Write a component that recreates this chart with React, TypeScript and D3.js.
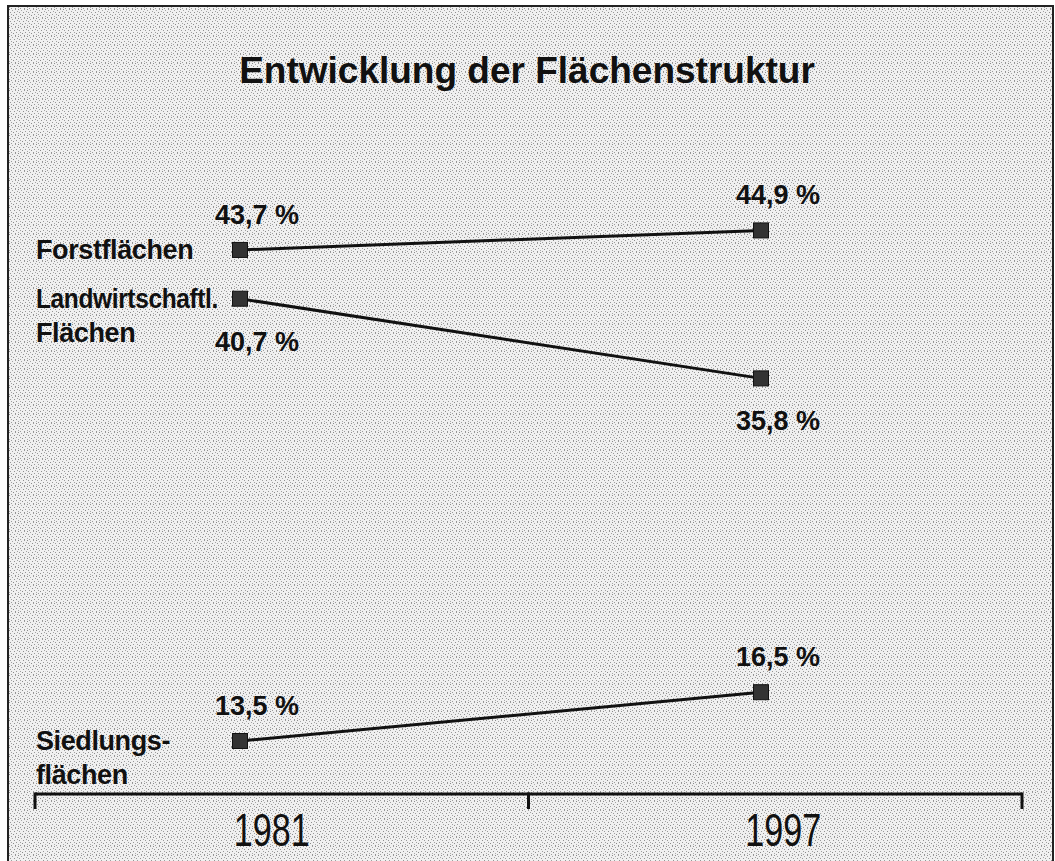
import React, { useEffect, useRef } from 'react';
import * as d3 from 'd3';

const title = 'Entwicklung der Flächenstruktur';
const years = ['1981', '1997'];
const categories = [['Forstflächen'], ['Landwirtschaftl.', 'Flächen'], ['Siedlungs-', 'flächen']];
const values1981 = [43.7, 40.7, 13.5];
const values1997 = [44.9, 35.8, 16.5];
const labelSide = ['above', 'below', 'above'];

const W = 1055;
const H = 861;
const font = '"Liberation Sans", Arial, Helvetica, sans-serif';

const fmt = (v: number) => d3.format('.1f')(v).replace('.', ',') + ' %';

// irregular stipple dots for the scanned-paper look
const dots: [number, number, string][] = [
  [0, 0, '#8c8c8c'], [3, 1, '#a5a5a5'], [6, 0, '#9a9a9a'], [1, 3, '#999'],
  [5, 3, '#8f8f8f'], [2, 5, '#a0a0a0'], [7, 5, '#969696'], [4, 6, '#8a8a8a'],
  [0, 7, '#a8a8a8'], [6, 8, '#939393'], [2, 8, '#9c9c9c'], [8, 2, '#a2a2a2'],
];

const App = () => {
  const ref = useRef<SVGSVGElement>(null);

  // squeeze the long row labels so they stay left of the markers
  useEffect(() => {
    d3.select(ref.current).selectAll<SVGTextElement, unknown>('text.cat').each(function () {
      const len = this.getComputedTextLength();
      if (len > 182) {
        this.setAttribute('textLength', '182');
        this.setAttribute('lengthAdjust', 'spacingAndGlyphs');
      }
    });
  }, []);

  // axis bands (ticks sit on the band edges)
  const band = d3.scaleBand<string>().domain(years).range([35, 1022]).padding(0);
  // marker positions
  const x = d3.scaleLinear().domain([+years[0], +years[1]]).range([240, 761]);
  const y = d3.scaleLinear().domain([0, 50]).range([960.5, 147.5]);
  const axisY = 794;

  const series = categories.map((names, i) => ({
    names,
    side: labelSide[i],
    pts: [
      { year: +years[0], v: values1981[i] },
      { year: +years[1], v: values1997[i] },
    ],
  }));

  const line = d3.line<{ year: number; v: number }>().x(d => x(d.year)).y(d => y(d.v));
  const tickXs = [...years.map(yr => band(yr) as number), band.range()[1]];

  return (
    <div style={{ position: 'absolute', left: 0, top: 0 }}>
      <svg ref={ref} width={W} height={H} style={{ display: 'block' }} fontFamily={font}>
        <defs>
          <pattern id="stipple" width="9" height="9" patternUnits="userSpaceOnUse">
            <rect width="9" height="9" fill="#f0f0f0" />
            {dots.map(([dx, dy, c], i) => (
              <rect key={i} x={dx} y={dy} width={1} height={1} fill={c} />
            ))}
          </pattern>
        </defs>
        <rect x={0} y={0} width={W} height={H} fill="#ffffff" />
        <rect x={8} y={6} width={1045} height={H + 20} fill="url(#stipple)" stroke="#222" strokeWidth={2} />

        <text x={527} y={83} textAnchor="middle" fontSize={37} fontWeight="bold" fill="#111">
          {title}
        </text>

        {series.map((s, i) => (
          <g key={i}>
            <path d={line(s.pts) || ''} fill="none" stroke="#111" strokeWidth={3} />
            {s.pts.map((p, j) => (
              <g key={j}>
                <rect x={x(p.year) - 7.5} y={y(p.v) - 7.5} width={15} height={15} fill="#333" stroke="#111" strokeWidth={1} />
                <text
                  x={x(p.year) + 17}
                  y={s.side === 'above' ? y(p.v) - 26 : y(p.v) + 52}
                  textAnchor="middle"
                  fontSize={27}
                  fontWeight="bold"
                  fill="#111"
                >
                  {fmt(p.v)}
                </text>
              </g>
            ))}
            {s.names.map((n, k) => (
              <text
                key={k}
                className="cat"
                x={36}
                y={y(s.pts[0].v) + 9 + k * 34}
                fontSize={27}
                fontWeight="bold"
                letterSpacing={-0.4}
                fill="#111"
              >
                {n}
              </text>
            ))}
          </g>
        ))}

        <line x1={band.range()[0]} x2={band.range()[1]} y1={axisY} y2={axisY} stroke="#111" strokeWidth={3} />
        {tickXs.map((tx, i) => (
          <line key={i} x1={tx} x2={tx} y1={axisY - 1.5} y2={axisY + 15} stroke="#111" strokeWidth={3} />
        ))}
        {years.map((yr, i) => (
          <text
            key={yr}
            x={(band(yr) as number) + band.bandwidth() / 2 + (i === 0 ? -10 : 8)}
            y={846}
            textAnchor="middle"
            fontSize={46}
            textLength={76}
            lengthAdjust="spacingAndGlyphs"
            fill="#111"
          >
            {yr}
          </text>
        ))}
      </svg>
    </div>
  );
};

export default App;
